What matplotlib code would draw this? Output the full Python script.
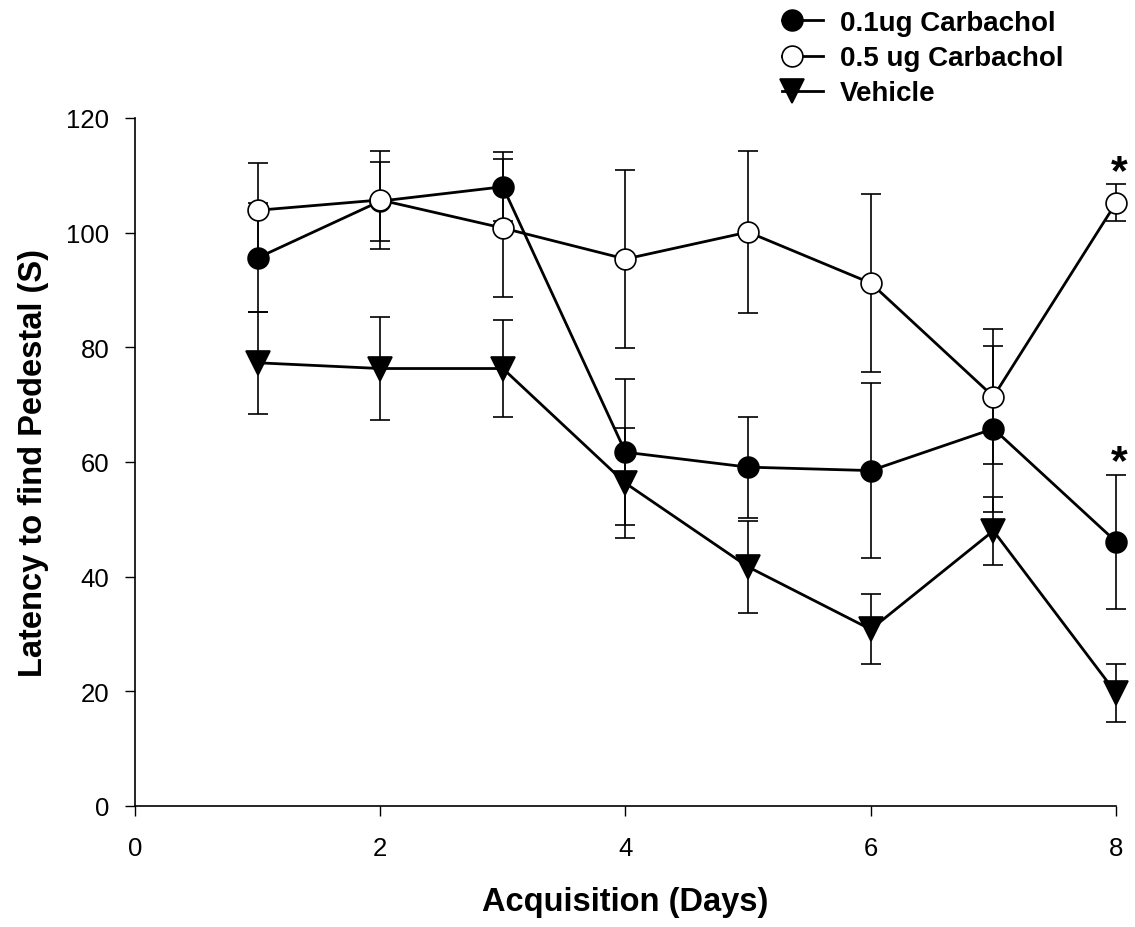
import matplotlib
matplotlib.use("Agg")
import matplotlib.pyplot as plt
from matplotlib.lines import Line2D
from matplotlib.legend_handler import HandlerLine2D

plt.rcParams['font.family'] = ['Liberation Sans', 'DejaVu Sans']

days = [1, 2, 3, 4, 5, 6, 7, 8]

carb01_mean = [95.6, 105.5, 108.0, 61.7, 59.1, 58.5, 65.8, 46.1]
carb01_err = [9.5, 6.9, 6.0, 12.7, 8.8, 15.3, 14.5, 11.7]

carb05_mean = [103.9, 105.7, 100.8, 95.4, 100.1, 91.2, 71.4, 105.2]
carb05_err = [8.3, 8.6, 12.0, 15.6, 14.2, 15.5, 11.8, 3.2]

veh_mean = [77.3, 76.3, 76.3, 56.3, 41.7, 30.8, 48.0, 19.7]
veh_err = [8.9, 8.9, 8.4, 9.6, 8.0, 6.1, 5.9, 5.0]

star_x = [8, 8]
star_y = [107.0, 56.5]


class LeftMarkerHandler(HandlerLine2D):
    # marker sits near the left end of the legend line, like the original
    def create_artists(self, legend, orig_handle, xdescent, ydescent,
                       width, height, fontsize, trans):
        x0 = -xdescent
        yc = (height - ydescent) / 2.0
        line = Line2D([x0, x0 + width], [yc, yc])
        self.update_prop(line, orig_handle, legend)
        line.set_marker('None')
        mk = Line2D([x0 + 0.24 * width], [yc])
        self.update_prop(mk, orig_handle, legend)
        mk.set_linestyle('None')
        line.set_transform(trans)
        mk.set_transform(trans)
        return [line, mk]


fig = plt.figure(figsize=(11.35, 9.28), dpi=100)
ax = fig.add_axes([0.1189, 0.1304, 0.8644, 0.7414])

common = dict(color='black', lw=2, elinewidth=1.2, capsize=7, capthick=1.2,
              markeredgewidth=1.2, markeredgecolor='black')

series = [
    (veh_mean, veh_err, 'v', 'black', 17, 'Vehicle', 3),
    (carb01_mean, carb01_err, 'o', 'black', 15, '0.1ug Carbachol', 4),
    (carb05_mean, carb05_err, 'o', 'white', 15, '0.5 ug Carbachol', 5),
]
handles = {}
for m, e, mk, fc, ms, lab, z in series:
    cont = ax.errorbar(days, m, yerr=e, marker=mk, markerfacecolor=fc,
                       markersize=ms, zorder=z, **common)
    for art in cont.get_children():
        art.set_clip_on(False)
    handles[lab] = Line2D([], [], color='black', lw=2, marker=mk, markerfacecolor=fc,
                          markeredgecolor='black', markeredgewidth=1.2, markersize=ms)

for sx, sy in zip(star_x, star_y):
    ax.text(sx + 0.03, sy, '*', fontsize=31, fontweight='bold', ha='center',
            va='bottom', clip_on=False)

ax.set_xlim(0, 8)
ax.set_ylim(0, 120)
ax.set_xticks([0, 2, 4, 6, 8])
ax.set_yticks([0, 20, 40, 60, 80, 100, 120])
ax.tick_params(direction='out', length=7.5, width=1, labelsize=18.5)
ax.tick_params(axis='x', pad=14)
ax.tick_params(axis='y', pad=11)
for s in ['top', 'right']:
    ax.spines[s].set_visible(False)
for s in ['left', 'bottom']:
    ax.spines[s].set_linewidth(1.2)

ax.set_xlabel('Acquisition (Days)', fontsize=23.5, fontweight='bold', labelpad=19)
ax.set_ylabel('Latency to find Pedestal (S)', fontsize=23.5, fontweight='bold', labelpad=12)

labels = ['0.1ug Carbachol', '0.5 ug Carbachol', 'Vehicle']
fig.legend([handles[k] for k in labels], labels,
           handler_map={Line2D: LeftMarkerHandler()},
           loc='upper left', bbox_to_anchor=(0.679, 1.0), frameon=False,
           prop={'weight': 'bold', 'size': 20}, handlelength=1.5,
           handletextpad=0.6, labelspacing=0.33, borderaxespad=0)

fig.savefig('out.png', dpi=100)
